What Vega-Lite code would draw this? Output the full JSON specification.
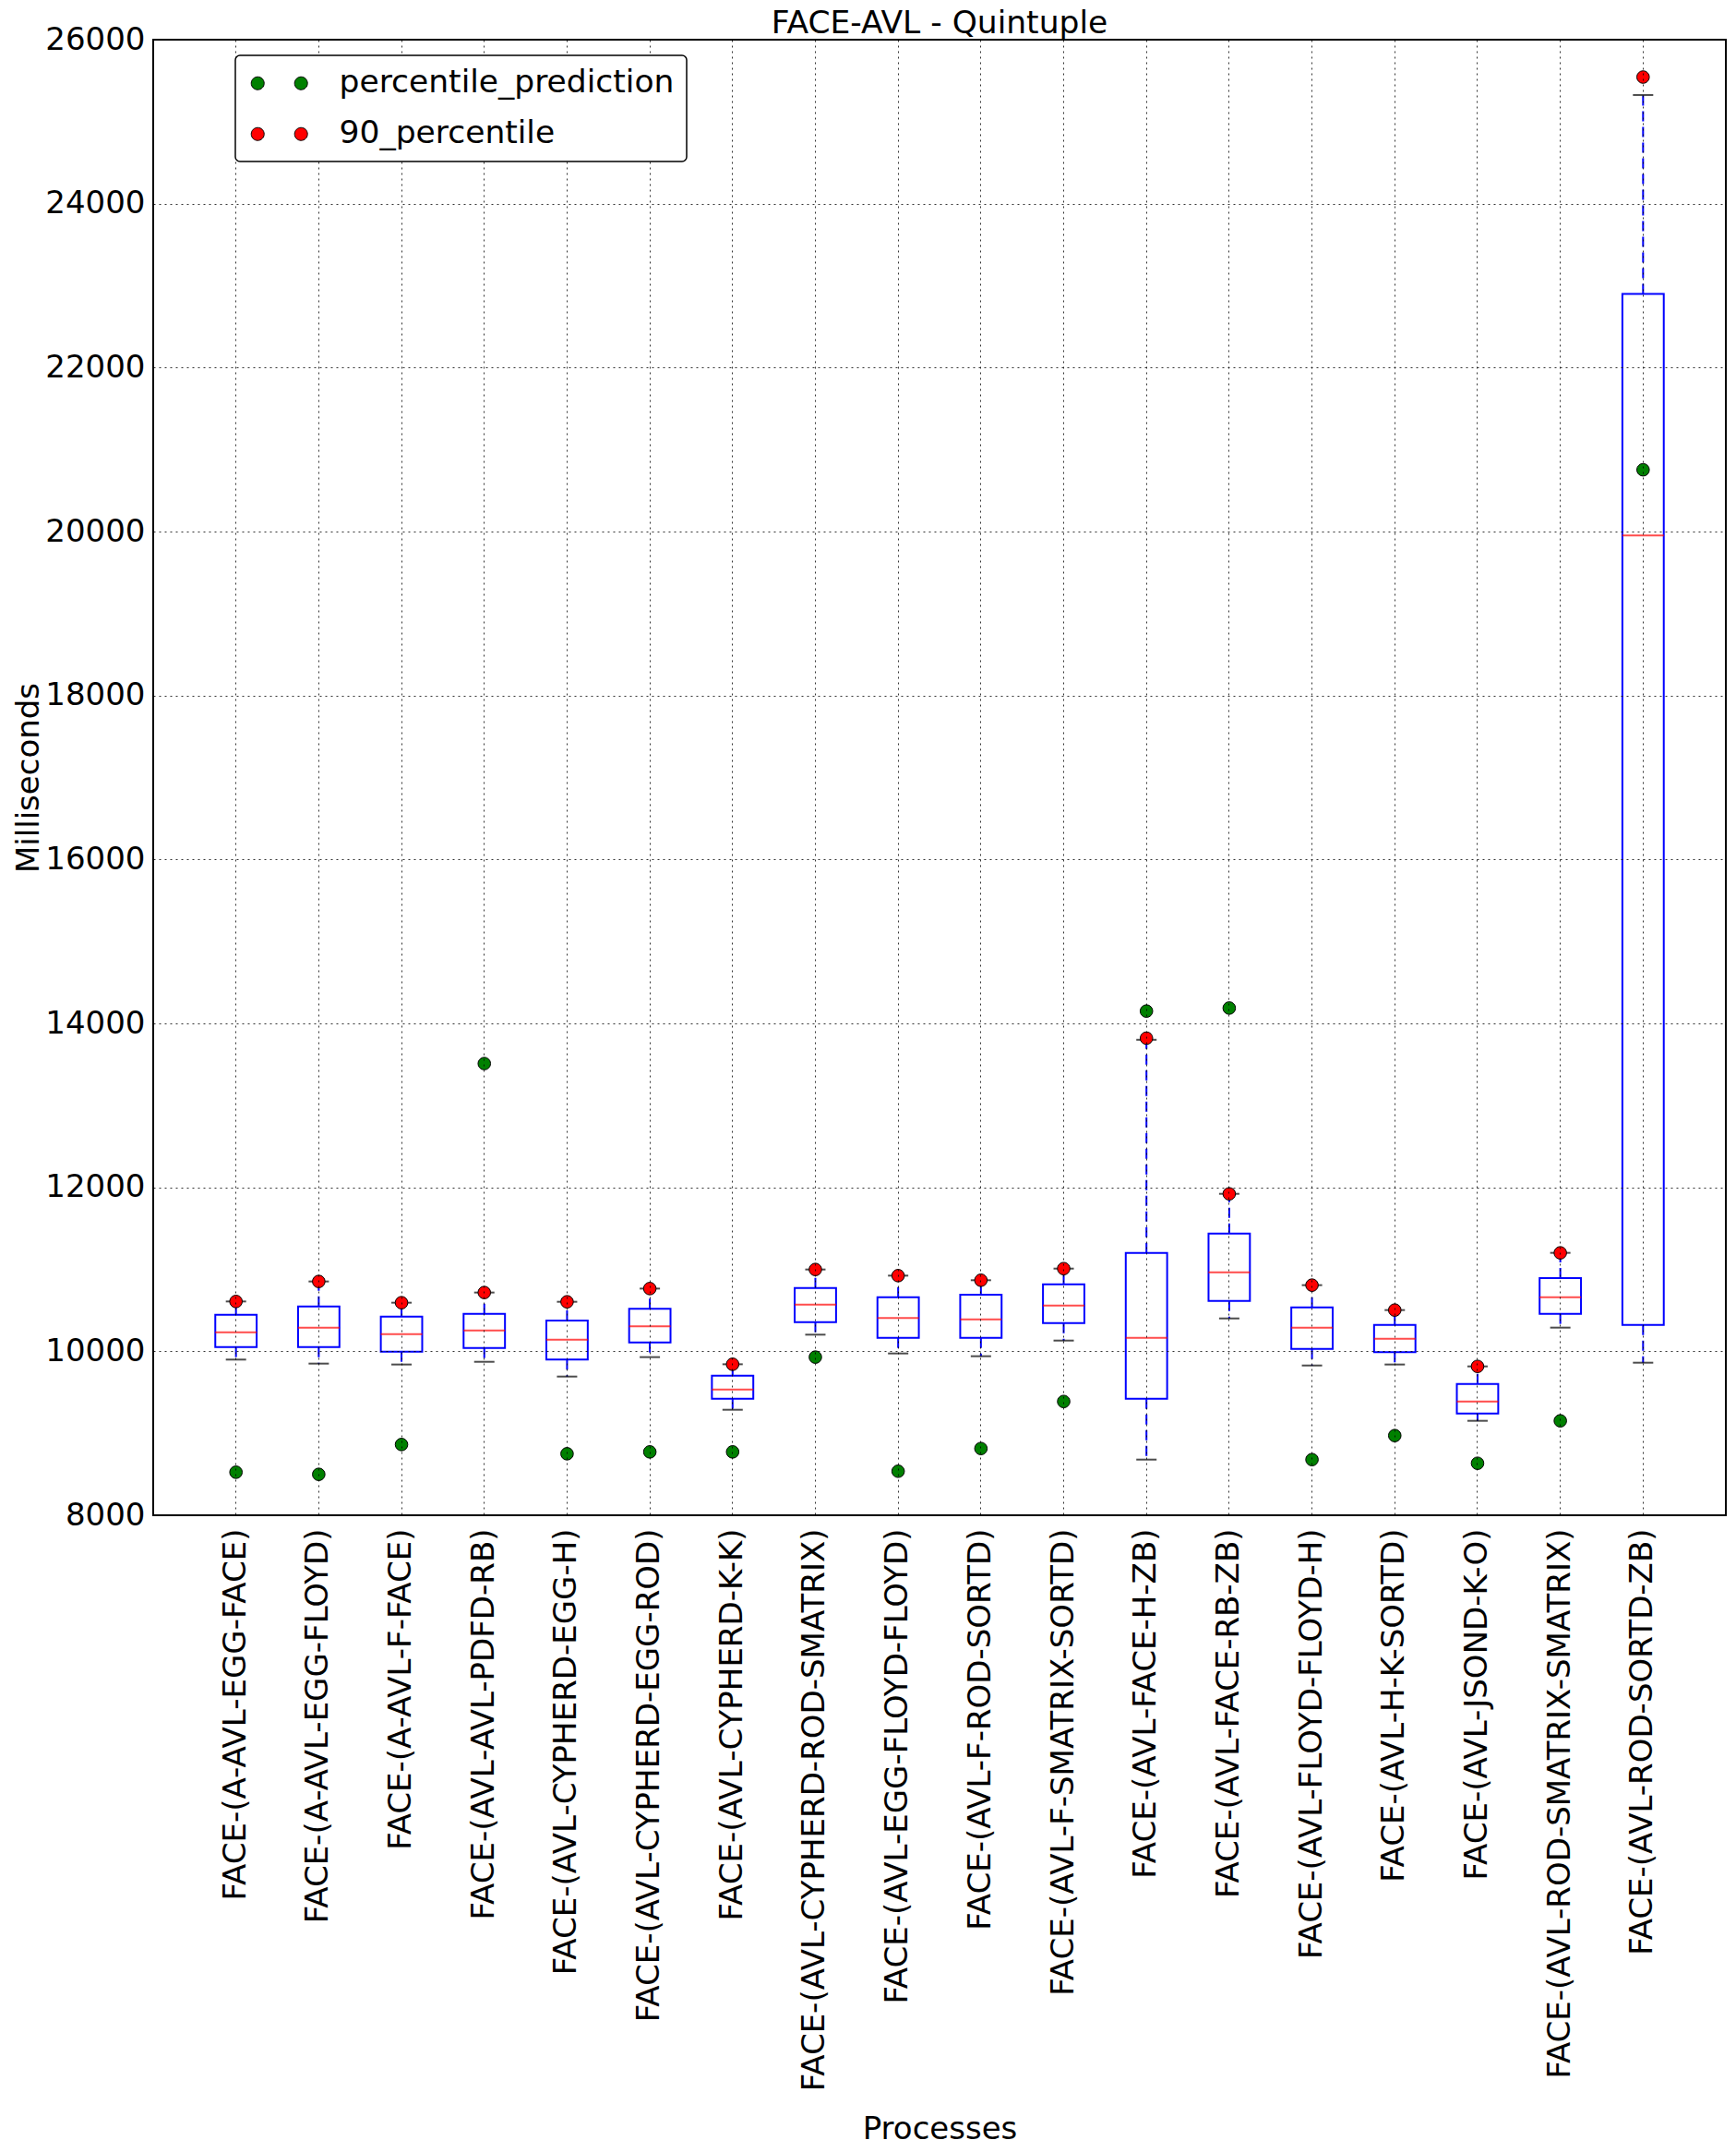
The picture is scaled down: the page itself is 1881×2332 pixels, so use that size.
{
  "$schema": "https://vega.github.io/schema/vega-lite/v6.json",
  "autosize": {"type": "none"},
  "padding": {"left": 166, "top": 43, "right": 11, "bottom": 690},
  "width": 1704,
  "height": 1599,
  "background": "white",
  "title": {"text": "FACE-AVL - Quintuple", "fontSize": 34.5, "font": "DejaVu Sans", "fontWeight": "normal", "color": "black", "anchor": "middle", "baseline": "alphabetic", "offset": -44, "frame": "group"},
  "datasets": {
    "stats": [
      {"process": "FACE-(A-AVL-EGG-FACE)", "low": 9899, "q1": 10053, "median": 10233, "q3": 10446, "high": 10608, "p90": 10608, "pred": 8525},
      {"process": "FACE-(A-AVL-EGG-FLOYD)", "low": 9850, "q1": 10053, "median": 10289, "q3": 10548, "high": 10852, "p90": 10852, "pred": 8499},
      {"process": "FACE-(A-AVL-F-FACE)", "low": 9839, "q1": 9996, "median": 10210, "q3": 10424, "high": 10593, "p90": 10593, "pred": 8863},
      {"process": "FACE-(AVL-AVL-PDFD-RB)", "low": 9872, "q1": 10041, "median": 10255, "q3": 10458, "high": 10717, "p90": 10717, "pred": 13510},
      {"process": "FACE-(AVL-CYPHERD-EGG-H)", "low": 9692, "q1": 9899, "median": 10143, "q3": 10375, "high": 10604, "p90": 10604, "pred": 8750},
      {"process": "FACE-(AVL-CYPHERD-EGG-ROD)", "low": 9929, "q1": 10109, "median": 10304, "q3": 10518, "high": 10765, "p90": 10765, "pred": 8773},
      {"process": "FACE-(AVL-CYPHERD-K-K)", "low": 9287, "q1": 9422, "median": 9535, "q3": 9704, "high": 9842, "p90": 9842, "pred": 8773},
      {"process": "FACE-(AVL-CYPHERD-ROD-SMATRIX)", "low": 10203, "q1": 10356, "median": 10570, "q3": 10773, "high": 10998, "p90": 10998, "pred": 9929},
      {"process": "FACE-(AVL-EGG-FLOYD-FLOYD)", "low": 9974, "q1": 10165, "median": 10405, "q3": 10660, "high": 10923, "p90": 10923, "pred": 8537},
      {"process": "FACE-(AVL-F-ROD-SORTD)", "low": 9940, "q1": 10165, "median": 10390, "q3": 10690, "high": 10867, "p90": 10867, "pred": 8814},
      {"process": "FACE-(AVL-F-SMATRIX-SORTD)", "low": 10131, "q1": 10345, "median": 10559, "q3": 10818, "high": 11009, "p90": 11009, "pred": 9388},
      {"process": "FACE-(AVL-FACE-H-ZB)", "low": 8679, "q1": 9422, "median": 10165, "q3": 11201, "high": 13800, "p90": 13820, "pred": 14150},
      {"process": "FACE-(AVL-FACE-RB-ZB)", "low": 10401, "q1": 10615, "median": 10964, "q3": 11437, "high": 11921, "p90": 11921, "pred": 14187},
      {"process": "FACE-(AVL-FLOYD-FLOYD-H)", "low": 9827, "q1": 10030, "median": 10289, "q3": 10537, "high": 10807, "p90": 10807, "pred": 8679},
      {"process": "FACE-(AVL-H-K-SORTD)", "low": 9839, "q1": 9989, "median": 10154, "q3": 10323, "high": 10503, "p90": 10503, "pred": 8972},
      {"process": "FACE-(AVL-JSOND-K-O)", "low": 9152, "q1": 9242, "median": 9388, "q3": 9602, "high": 9816, "p90": 9816, "pred": 8634},
      {"process": "FACE-(AVL-ROD-SMATRIX-SMATRIX)", "low": 10289, "q1": 10458, "median": 10660, "q3": 10893, "high": 11201, "p90": 11201, "pred": 9152},
      {"process": "FACE-(AVL-ROD-SORTD-ZB)", "low": 9861, "q1": 10323, "median": 19953, "q3": 22899, "high": 25325, "p90": 25544, "pred": 20753}
    ]
  },
  "data": {"name": "stats"},
  "encoding": {
    "x": {
      "field": "process", "type": "nominal", "sort": null,
      "scale": {"type": "band", "paddingInner": 0.5, "paddingOuter": 0.75},
      "axis": {
        "title": "Processes", "titleFontSize": 34, "titleFont": "DejaVu Sans", "titleFontWeight": "normal", "titleColor": "black",
        "titleX": 852, "titleY": 675, "titleBaseline": "alphabetic", "titleAlign": "center", "titleAngle": 0,
        "labelAngle": -90, "labelAlign": "right", "labelBaseline": "middle", "labelFontSize": 34, "labelFont": "DejaVu Sans", "labelColor": "black",
        "labelPadding": 14, "labelLimit": 2000, "labelOverlap": false,
        "ticks": false, "tickSize": 0, "domain": false,
        "grid": true, "bandPosition": 0.5, "gridColor": "#000000", "gridDash": [2, 4], "gridWidth": 1, "gridOpacity": 0.8,
        "zindex": 1
      }
    }
  },
  "layer": [
    {
      "mark": {"type": "bar", "fill": "transparent", "stroke": "#0000ff", "strokeWidth": 2},
      "encoding": {
        "y": {
          "field": "q1", "type": "quantitative",
          "scale": {"domain": [8000, 26000], "nice": false, "zero": false},
          "axis": {
            "title": "Milliseconds", "titleFontSize": 34, "titleFont": "DejaVu Sans", "titleFontWeight": "normal", "titleColor": "black",
            "titleX": -125, "titleY": 799.5, "titleAngle": -90, "titleBaseline": "alphabetic", "titleAlign": "center",
            "values": [8000, 10000, 12000, 14000, 16000, 18000, 20000, 22000, 24000, 26000], "format": "d",
            "labelFontSize": 34, "labelFont": "DejaVu Sans", "labelColor": "black", "labelPadding": 9,
            "ticks": false, "tickSize": 0, "domain": false,
            "grid": true, "gridColor": "#000000", "gridDash": [2, 4], "gridWidth": 1, "gridOpacity": 0.8,
            "zindex": 1
          }
        },
        "y2": {"field": "q3"}
      }
    },
    {
      "mark": {"type": "tick", "color": "#ff0000", "thickness": 2, "size": 45},
      "encoding": {"y": {"field": "median", "type": "quantitative"}}
    },
    {
      "mark": {"type": "rule", "color": "#0000ff", "strokeWidth": 2, "strokeDash": [11, 6]},
      "encoding": {"y": {"field": "q3", "type": "quantitative"}, "y2": {"field": "high"}}
    },
    {
      "mark": {"type": "rule", "color": "#0000ff", "strokeWidth": 2, "strokeDash": [11, 6]},
      "encoding": {"y": {"field": "q1", "type": "quantitative"}, "y2": {"field": "low"}}
    },
    {
      "mark": {"type": "tick", "color": "#000000", "thickness": 2, "size": 22},
      "encoding": {"y": {"field": "high", "type": "quantitative"}}
    },
    {
      "mark": {"type": "tick", "color": "#000000", "thickness": 2, "size": 22},
      "encoding": {"y": {"field": "low", "type": "quantitative"}}
    },
    {
      "mark": {"type": "point", "filled": true, "shape": "circle", "size": 185, "stroke": "#000000", "strokeWidth": 1, "opacity": 1},
      "encoding": {
        "y": {"field": "pred", "type": "quantitative"},
        "fill": {
          "datum": "percentile_prediction", "type": "nominal",
          "scale": {"domain": ["percentile_prediction", "90_percentile"], "range": ["#008000", "#ff0000"]},
          "legend": {
            "title": null, "orient": "none", "legendX": 89, "legendY": 17, "direction": "vertical",
            "symbolType": "M -1.86 0 A 1 1 0 1 1 0.14 0 A 1 1 0 1 1 -1.86 0 Z M 4.85 0 A 1 1 0 1 1 6.85 0 A 1 1 0 1 1 4.85 0 Z",
            "symbolSize": 196, "symbolStrokeColor": "#000000", "symbolStrokeWidth": 1, "symbolOpacity": 1,
            "labelFontSize": 34.5, "labelFont": "DejaVu Sans", "labelColor": "black", "labelOffset": 65, "labelLimit": 2000,
            "rowPadding": 20, "padding": 13,
            "strokeColor": "#000000", "fillColor": "white", "cornerRadius": 5, "zindex": 2,
            "encode": {"legend": {"update": {"strokeWidth": {"value": 1.5}}}}
          }
        }
      }
    },
    {
      "mark": {"type": "point", "filled": true, "shape": "circle", "size": 185, "stroke": "#000000", "strokeWidth": 1, "opacity": 1},
      "encoding": {
        "y": {"field": "p90", "type": "quantitative"},
        "fill": {"datum": "90_percentile", "type": "nominal"}
      }
    }
  ],
  "config": {
    "font": "DejaVu Sans",
    "view": {"stroke": "#000000", "strokeWidth": 2}
  }
}
